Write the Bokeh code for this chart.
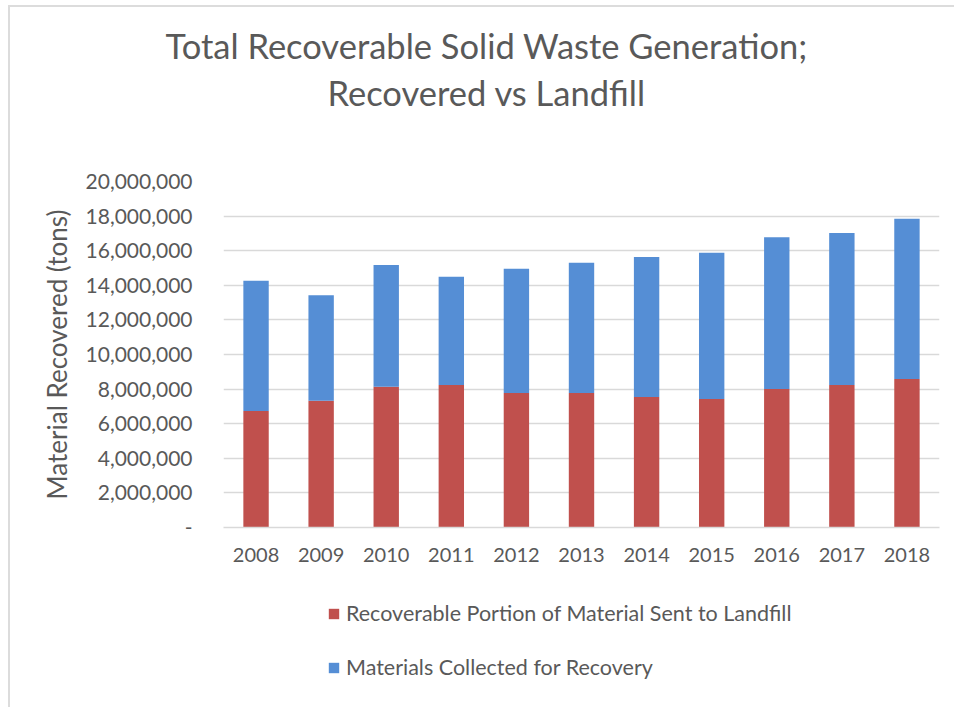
from bokeh.plotting import figure
from bokeh.layouts import column
from bokeh.models import ColumnDataSource, FixedTicker, Title, Range1d, FactorRange, Legend, LegendItem
from bokeh.embed import file_html
from bokeh.resources import INLINE

years = ["2008", "2009", "2010", "2011", "2012", "2013", "2014", "2015", "2016", "2017", "2018"]
landfill = [6740000, 7330000, 8130000, 8240000, 7780000, 7780000, 7550000, 7430000, 8010000, 8240000, 8590000]
recovery = [7520000, 6100000, 7050000, 6250000, 7170000, 7520000, 8080000, 8450000, 8770000, 8790000, 9250000]
series_names = ["Recoverable Portion of Material Sent to Landfill", "Materials Collected for Recovery"]
y_ticks = [0, 2000000, 4000000, 6000000, 8000000, 10000000, 12000000, 14000000, 16000000, 18000000, 20000000]
title_lines = ["Total Recoverable Solid Waste Generation;", "Recovered vs Landfill"]

FONT = "Lato"
GRAY = "#595959"
RED = "#C0504D"
BLUE = "#558ED5"
FRAME_LINES = {"background": "linear-gradient(#DCDCDC,#DCDCDC) 8px 5px / 100% 2px no-repeat, "
                             "linear-gradient(#DCDCDC,#DCDCDC) 8px 5px / 2px 100% no-repeat"}

source = ColumnDataSource(data=dict(year=years, landfill=landfill, recovery=recovery))

# ---------------- main chart ----------------
p = figure(
    width=954, height=590,
    x_range=FactorRange(*years, range_padding=0),
    y_range=Range1d(0, 20000000),
    output_backend="svg", toolbar_location=None,
    min_border_left=223, min_border_right=15, min_border_top=181, min_border_bottom=63,
)
p.title = None
p.border_fill_color = None
p.background_fill_color = None

rs = p.vbar_stack(["landfill", "recovery"], x="year", width=0.39, source=source,
                  color=[RED, BLUE], line_color=None)

# spacer between frame and title block, then the two title lines (last added on top)
p.add_layout(Title(text=" ", text_font_size="1px", standoff=66), "above")
p.add_layout(Title(text=title_lines[1], align="left", offset=104,
                   text_font=FONT, text_font_size="34.5px",
                   text_font_style="normal", text_color=GRAY, standoff=0), "above")
p.add_layout(Title(text=title_lines[0], align="left", offset=-58,
                   text_font=FONT, text_font_size="34.5px",
                   text_font_style="normal", text_color=GRAY, standoff=8), "above")

p.outline_line_color = None
p.xgrid.grid_line_color = None
p.ygrid.grid_line_color = "#D9D9D9"
p.ygrid.grid_line_width = 1.5

yax = p.yaxis[0]
yax.ticker = FixedTicker(ticks=y_ticks)
yax.major_label_overrides = {t: ("-" if t == 0 else f"{t:,}") for t in y_ticks}
yax.axis_line_color = None
yax.major_tick_line_color = None
yax.minor_tick_line_color = None
yax.major_label_standoff = 25
yax.major_label_text_font = FONT
yax.major_label_text_font_size = "21px"
yax.major_label_text_color = GRAY
yax.axis_label = "Material Recovered (tons)"
yax.axis_label_text_font = FONT
yax.axis_label_text_font_size = "26px"
yax.axis_label_text_font_style = "normal"
yax.axis_label_text_color = GRAY
yax.axis_label_standoff = 10

xax = p.xaxis[0]
xax.axis_line_color = "#D9D9D9"
xax.axis_line_width = 1.5
xax.major_tick_line_color = None
xax.minor_tick_line_color = None
xax.major_label_standoff = 14
xax.major_label_text_font = FONT
xax.major_label_text_font_size = "20px"
xax.major_label_text_color = GRAY

# ---------------- legend strip ----------------
p2 = figure(
    width=954, height=117,
    x_range=FactorRange(*years), y_range=Range1d(0, 1),
    x_axis_type=None, y_axis_type=None,
    output_backend="svg", toolbar_location=None,
    min_border_left=0, min_border_right=0, min_border_top=0, min_border_bottom=0,
)
p2.title = None
p2.outline_line_color = None
p2.border_fill_color = None
p2.background_fill_color = None
p2.xgrid.visible = False
p2.ygrid.visible = False
rs2 = p2.vbar_stack(["landfill", "recovery"], x="year", width=0.39, source=source,
                    color=[RED, BLUE], line_color=None)
for r in rs2:
    r.visible = False

lg = Legend(items=[LegendItem(label=series_names[i], renderers=[rs2[i]]) for i in range(2)])
lg.location = (104, 27)
lg.orientation = "vertical"
lg.border_line_color = None
lg.background_fill_alpha = 0
lg.inactive_fill_alpha = 0
lg.padding = 0
lg.margin = 0
lg.spacing = 28
lg.glyph_width = 13
lg.glyph_height = 13
lg.label_standoff = 6
lg.label_height = 26
lg.label_text_font = FONT
lg.label_text_font_size = "21.5px"
lg.label_text_color = GRAY
p2.add_layout(lg, "center")

p.styles = FRAME_LINES
p2.styles = {"background": "linear-gradient(#DCDCDC,#DCDCDC) 8px 0px / 2px 100% no-repeat"}

layout = column(p, p2, spacing=0)
open("out.html", "w").write(file_html(layout, INLINE))
